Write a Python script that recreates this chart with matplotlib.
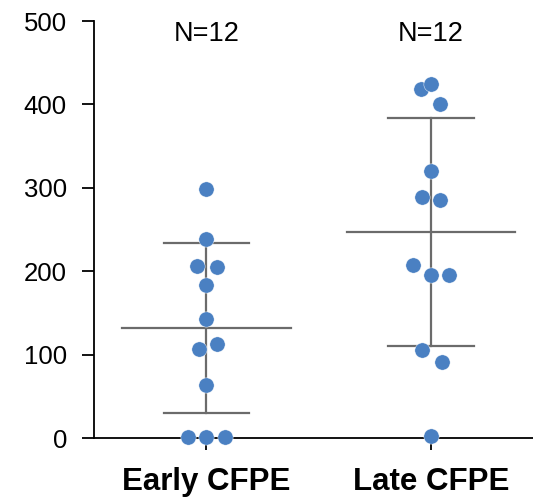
import numpy as np
from matplotlib import pyplot as plt

plt.rcParams['font.family'] = ['Liberation Sans', 'DejaVu Sans']

# Datos
grupos = ["Early CFPE", "Late CFPE"]
etiquetas_n = ["N=12", "N=12"]

early = [298, 239, 206, 205, 184, 143, 107, 113, 64, 1, 1, 1]
early_dx = [0, 0, -0.04, 0.045, 0, 0, -0.035, 0.045, 0, -0.08, 0, 0.085]

late = [418, 424, 401, 320, 289, 285, 208, 196, 196, 106, 91, 2]
late_dx = [-0.045, 0, 0.04, 0, -0.04, 0.04, -0.08, 0, 0.08, -0.04, 0.05, 0]

medias = [132, 247]
desv = [102, 137]

azul = "#4a80c2"
gris = "#6b6b6b"

fig = plt.figure(figsize=(5.33, 4.98), dpi=100)
ax = fig.add_axes([94/533, 60/498, 1 - 94/533, 417/498])

for i, (vals, dx) in enumerate([(early, early_dx), (late, late_dx)]):
    m, s = medias[i], desv[i]
    # Línea de la media y barras de desviación
    ax.plot([i - 0.375, i + 0.375], [m, m], color=gris, lw=1.6, zorder=1)
    ax.plot([i, i], [m - s, m + s], color=gris, lw=1.6, zorder=1)
    ax.plot([i - 0.19, i + 0.19], [m + s, m + s], color=gris, lw=1.6, zorder=1)
    ax.plot([i - 0.19, i + 0.19], [m - s, m - s], color=gris, lw=1.6, zorder=1)
    ax.plot(np.array(dx) + i, vals, 'o', color=azul, ms=11, mec='white',
            mew=0.3, zorder=3, clip_on=False)
    ax.text(i, 485, etiquetas_n[i], ha='center', va='center', fontsize=19.5)

ax.set_xlim(-0.5, 1.453)
ax.set_ylim(0, 500)
ax.set_yticks([0, 100, 200, 300, 400, 500])
ax.set_xticks([0, 1])
ax.set_xticklabels(grupos, fontsize=22.5, fontweight='bold')
ax.tick_params(axis='y', labelsize=18.5, length=8.5, width=1.3, pad=11)
ax.tick_params(axis='x', length=8.5, width=1.3, pad=12.5)
for lado in ['top', 'right']:
    ax.spines[lado].set_visible(False)
for lado in ['left', 'bottom']:
    ax.spines[lado].set_linewidth(1.3)

fig.savefig("out.png", dpi=100)
